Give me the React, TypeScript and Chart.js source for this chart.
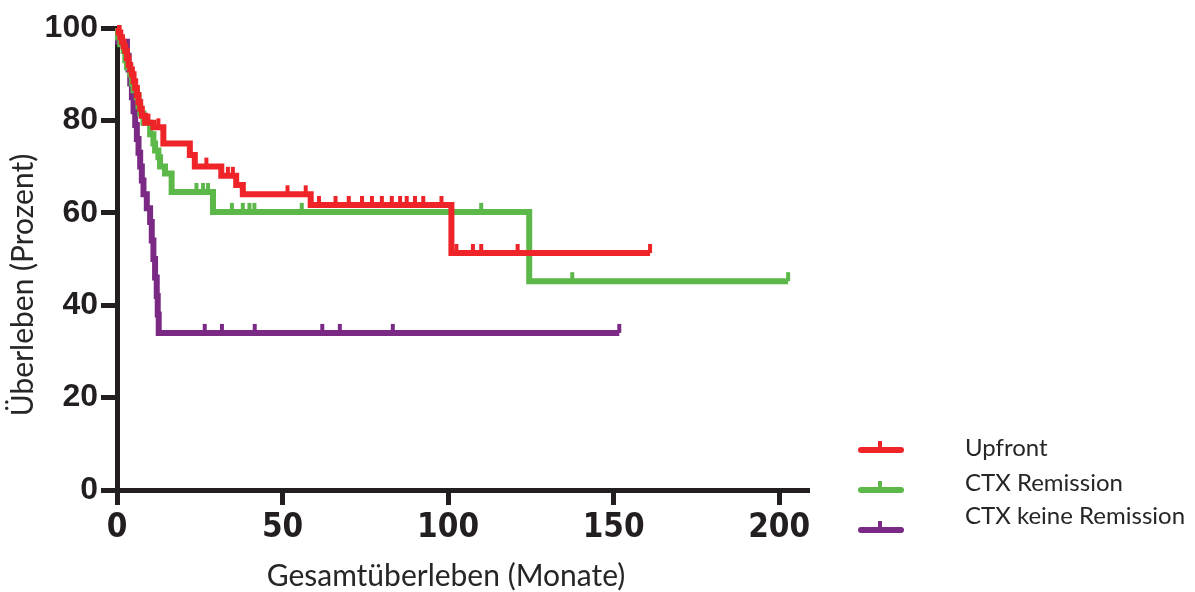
import React, { useEffect, useRef } from 'react';
import { Chart, registerables } from 'chart.js';

Chart.register(...registerables);

// ---------- data ----------
const seriesLabels = ['Upfront', 'CTX Remission', 'CTX keine Remission'];
const seriesColors = ['#ee2428', '#5cb848', '#7a2a85'];

const xTitle = 'Gesamtüberleben (Monate)';
const yTitle = 'Überleben (Prozent)';
const xTicks = [0, 50, 100, 150, 200];
const yTicks = [0, 20, 40, 60, 80, 100];

// Upfront (months, survival %, censored flag)
const upfrontT = [0, 0.5, 1, 1.5, 2, 2.5, 3, 3.5, 4, 4.5, 5, 5.5, 6, 6.5, 7, 7.5, 8.5, 9.5, 11, 12.5, 14, 22, 23.5, 27, 31.5, 33.5, 35, 36, 38, 51.5, 57, 58.5, 61, 66, 70, 74, 77, 80, 83, 85.5, 87.5, 90, 92.5, 98, 101, 102.5, 107.5, 110, 121, 161];
const upfrontS = [100, 99, 98, 97, 96, 95, 93.5, 92, 91, 90, 88.5, 87, 85.5, 84, 82.5, 81, 79.5, 79.5, 78.5, 78.5, 75, 72.5, 70, 70, 68, 68, 68, 66, 64, 64, 64, 61.7, 61.7, 61.7, 61.7, 61.7, 61.7, 61.7, 61.7, 61.7, 61.7, 61.7, 61.7, 61.7, 51.3, 51.3, 51.3, 51.3, 51.3, 51.3];
const upfrontC = [0, 0, 0, 0, 0, 0, 0, 0, 0, 0, 0, 0, 0, 0, 0, 0, 0, 1, 0, 1, 0, 0, 0, 1, 0, 1, 1, 0, 0, 1, 1, 0, 1, 1, 1, 1, 1, 1, 1, 1, 1, 1, 1, 1, 0, 1, 1, 1, 1, 1];

// CTX Remission
const remissionT = [0, 0.3, 1, 2, 2.5, 3, 4, 4.5, 5, 6, 6.5, 7, 8, 10, 11, 11.5, 12.5, 13, 14.5, 16.5, 24, 26, 27.5, 29, 34.7, 38, 40, 41.5, 55.8, 110, 124.5, 137.5, 202.7];
const remissionS = [100, 98, 96.5, 95, 93, 91.5, 90, 88, 86.5, 85, 83, 81.5, 79.5, 77, 75, 73.5, 72, 70, 68.5, 64.5, 64.5, 64.5, 64.5, 60.2, 60.2, 60.2, 60.2, 60.2, 60.2, 60.2, 45.2, 45.2, 45.2];
const remissionC = [0, 0, 0, 0, 0, 0, 0, 0, 0, 0, 0, 0, 0, 0, 0, 0, 0, 0, 0, 0, 1, 1, 1, 0, 1, 1, 1, 1, 1, 1, 0, 1, 1];

// CTX keine Remission
const noRemissionT = [0, 0.3, 3, 3.5, 4, 4.5, 5, 5.5, 6, 6.5, 7, 7.5, 8, 9, 10, 10.5, 11, 11.5, 12, 12.3, 12.6, 26.5, 31.7, 41.6, 62, 67.3, 83.3, 151.7];
const noRemissionS = [100, 97, 94, 91, 88, 85, 82, 79, 76, 73, 70, 67, 64, 61, 58, 54, 50, 46, 42, 38, 34, 34, 34, 34, 34, 34, 34, 34];
const noRemissionC = [0, 0, 0, 0, 0, 0, 0, 0, 0, 0, 0, 0, 0, 0, 0, 0, 0, 0, 0, 0, 0, 1, 1, 1, 1, 1, 1, 1];

// ---------- styling ----------
const AX = '#231f20';
const TXT = '#262626';
const LABEL_FONT = 'Lato, "Open Sans", sans-serif';

const toPoints = (t: number[], s: number[]) => t.map((x, i) => ({ x, y: s[i] }));

const censorPlugin = {
  id: 'censorTicks',
  afterDatasetDraw(chart: any, args: any) {
    const ds = chart.data.datasets[args.index];
    const flags: number[] = ds.censor || [];
    const c = chart.ctx;
    c.save();
    c.strokeStyle = ds.borderColor;
    c.lineWidth = 4;
    c.lineCap = 'butt';
    args.meta.data.forEach((pt: any, i: number) => {
      if (!flags[i]) return;
      c.beginPath();
      c.moveTo(pt.x, pt.y);
      c.lineTo(pt.x, pt.y - 9);
      c.stroke();
    });
    c.restore();
  },
};

const annotationPlugin = {
  id: 'annotations',
  afterDraw(chart: any) {
    const c = chart.ctx;
    c.save();
    c.fillStyle = TXT;
    c.textBaseline = 'middle';
    // axis titles
    c.font = `30px ${LABEL_FONT}`;
    c.textAlign = 'center';
    c.fillText(xTitle, 446, 576);
    c.save();
    c.translate(23, 285);
    c.rotate(-Math.PI / 2);
    c.fillText(yTitle, 0, 0);
    c.restore();
    // legend
    const lineY = [450, 490, 530];
    const textY = [448, 483, 516];
    c.font = `24px ${LABEL_FONT}`;
    c.textAlign = 'left';
    seriesLabels.forEach((lab, i) => {
      c.strokeStyle = seriesColors[i];
      c.lineWidth = 6;
      c.lineCap = 'round';
      c.beginPath();
      c.moveTo(861, lineY[i]);
      c.lineTo(901, lineY[i]);
      c.stroke();
      c.lineCap = 'butt';
      c.lineWidth = 4;
      c.beginPath();
      c.moveTo(880, lineY[i]);
      c.lineTo(880, lineY[i] - 9);
      c.stroke();
      c.fillStyle = TXT;
      c.fillText(lab, 965, textY[i]);
    });
    c.restore();
  },
};

export default function App() {
  const ref = useRef<HTMLCanvasElement>(null);
  useEffect(() => {
    document.body.style.margin = '0';
    const canvas = ref.current!;
    const mk = (i: number, t: number[], s: number[], cf: number[]) => ({
      label: seriesLabels[i],
      data: toPoints(t, s),
      censor: cf,
      borderColor: seriesColors[i],
      backgroundColor: seriesColors[i],
      borderWidth: 6,
      stepped: true,
      pointRadius: 0,
      fill: false,
      clip: false,
      borderCapStyle: 'butt',
      borderJoinStyle: 'miter',
    });
    const chart = new Chart(canvas, {
      type: 'line',
      data: {
        datasets: [
          mk(0, upfrontT, upfrontS, upfrontC),
          mk(1, remissionT, remissionS, remissionC),
          mk(2, noRemissionT, noRemissionS, noRemissionC),
        ] as any,
      },
      options: {
        animation: false,
        responsive: false,
        devicePixelRatio: 1,
        layout: { padding: { left: 0, top: 28, right: 386, bottom: 0 } },
        plugins: { legend: { display: false }, tooltip: { enabled: false } },
        scales: {
          x: {
            type: 'linear',
            min: 0,
            max: 209,
            afterFit: (s: any) => { s.height = 102; },
            afterBuildTicks: (s: any) => { s.ticks = xTicks.map((v) => ({ value: v })); },
            border: { display: true, color: AX, width: 5 },
            grid: { display: true, drawOnChartArea: false, drawTicks: true, tickLength: 15, tickWidth: 5, tickColor: AX, color: AX },
            ticks: {
              padding: 4,
              color: AX,
              maxRotation: 0,
              autoSkip: false,
              font: { family: '"Liberation Sans Narrow", "DejaVu Sans Condensed", "Liberation Sans", sans-serif', size: 33, weight: 'bold' },
            },
          },
          y: {
            type: 'linear',
            min: 0,
            max: 100,
            afterFit: (s: any) => { s.width = 117; },
            afterBuildTicks: (s: any) => { s.ticks = yTicks.map((v) => ({ value: v })); },
            border: { display: true, color: AX, width: 5 },
            grid: { display: true, drawOnChartArea: false, drawTicks: true, tickLength: 16, tickWidth: 5, tickColor: AX, color: AX },
            ticks: {
              padding: 3,
              color: AX,
              autoSkip: false,
              font: { family: '"Liberation Sans", Arial, sans-serif', size: 32, weight: 'bold' },
            },
          },
        },
      } as any,
      plugins: [censorPlugin, annotationPlugin],
    });
    return () => chart.destroy();
  }, []);
  return <canvas ref={ref} width={1195} height={592} style={{ display: 'block' }} />;
}
